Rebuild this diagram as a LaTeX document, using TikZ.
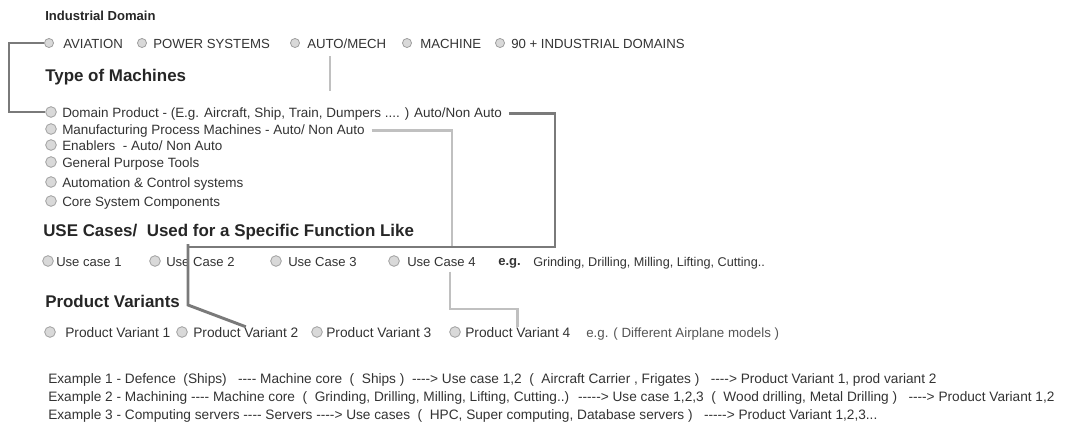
\documentclass[tikz,border=0pt]{standalone}
\usepackage{fontspec}
\setmainfont{Liberation Sans}[Ligatures=TeXOff]
\usetikzlibrary{positioning, calc}
\definecolor{txtgray}{HTML}{333333}
\definecolor{notegray}{HTML}{555555}
\definecolor{linkdark}{HTML}{7A7A7A}
\definecolor{linklight}{HTML}{C0C0C0}
\tikzset{
  radio/.style={circle, draw=gray!75, fill=gray!30, line width=0.6pt, minimum size=8pt, inner sep=0pt},
  smallradio/.style={radio, minimum size=6.8pt},
  opt/.style={anchor=base west, inner sep=0pt, text=txtgray, font=\fontsize{10.1}{12}\selectfont},
  heading/.style={anchor=base west, inner sep=0pt, text=black!85, font=\bfseries\fontsize{12.7}{14}\selectfont},
  example/.style={anchor=base west, inner sep=0pt, text=txtgray, font=\fontsize{10.25}{12}\selectfont},
  darklink/.style={linkdark, line width=2.2pt},
  lightlink/.style={linklight, line width=2.2pt},
}

\begin{document}
\begin{tikzpicture}[x=0.75pt, y=-0.75pt]
\useasboundingbox (0,0) rectangle (1067,426);

% --- Industrial domains ---
\node[opt, font=\bfseries\fontsize{9.8}{11}\selectfont, text=black!85] (hDomain) at (45,20) {Industrial Domain};
\foreach \rx/\tx/\name/\label in {49/63/aviation/{AVIATION}, 142/153/power/{POWER SYSTEMS},
    295/307/auto/{AUTO/MECH}, 407/420/machine/{MACHINE}, 500/511/ninety/{90 + INDUSTRIAL DOMAINS}} {
  \node[smallradio] (r\name) at (\rx,43) {};
  \node[opt, font=\fontsize{9.9}{11}\selectfont] (t\name) at (\tx,48) {\label};
}

% --- Type of machines ---
\node[heading] (hMachines) at (45,81) {Type of Machines};
\foreach \y/\name/\label in {117/domain/{Domain Product - (E.g. Aircraft, Ship, Train, Dumpers .... ) Auto/Non Auto},
    134/manu/{Manufacturing Process Machines - Auto/ Non Auto},
    150/enablers/{Enablers\ \ - Auto/ Non Auto},
    167/general/{General Purpose Tools},
    187/automation/{Automation \& Control systems},
    206/core/{Core System Components}} {
  \node[radio] (r\name) at (51,\y-5) {};
  \node[opt] (t\name) at (62,\y) {\label};
}

% --- Use cases ---
\node[heading] (hUse) at (43,236) {USE Cases/\ \ Used for a Specific Function Like};
\foreach \rx/\tx/\name/\label in {48/56/UCone/{Use case 1}, 155/166/UCtwo/{Use Case 2},
    276/288/UCthree/{Use Case 3}, 394/407/UCfour/{Use Case 4}} {
  \node[radio] (r\name) at (\rx,261) {};
  \node[opt, font=\fontsize{9.8}{11}\selectfont] (t\name) at (\tx,266) {\label};
}
\node[opt, font=\bfseries\fontsize{9.8}{11}\selectfont] (tEg) at (498,265) {e.g.};
\node[opt, font=\fontsize{9.5}{11}\selectfont] (tFunctions) at (533,266) {Grinding, Drilling, Milling, Lifting, Cutting..};

% --- Product variants ---
\node[heading] (hVariants) at (45,307) {Product Variants};
\foreach \rx/\tx/\name/\label in {50/65/PVone/{Product Variant 1}, 182/193/PVtwo/{Product Variant 2},
    317/326/PVthree/{Product Variant 3}, 455/465/PVfour/{Product Variant 4}} {
  \node[radio] (r\name) at (\rx,332) {};
  \node[opt, font=\fontsize{10.3}{12}\selectfont] (t\name) at (\tx,337) {\label};
}
\node[opt, text=notegray, font=\fontsize{10}{12}\selectfont] (tModels) at (586,337) {e.g. (\ Different Airplane models )};

% --- Examples ---
\node[example] (ex1) at (48,383) {Example 1 - Defence \ (Ships)\ \ \ ---- Machine core \ ( \ Ships ) \ ----> Use case 1,2 \ ( \ Aircraft Carrier , Frigates ) \ \ ----> Product Variant 1, prod variant 2};
\node[example] (ex2) at (48,401) {Example 2 - Machining ---- Machine core \ ( \ Grinding, Drilling, Milling, Lifting, Cutting..) \ -----> Use case 1,2,3 \ ( \ Wood drilling, Metal Drilling ) \ \ ----> Product Variant 1,2};
\node[example] (ex3) at (48,419) {Example 3 - Computing servers ---- Servers ----> Use cases \ ( \ HPC, Super computing, Database servers ) \ \ -----> Product Variant 1,2,3...};

% --- Connectors ---
\coordinate (bendA) at (9,43);
\coordinate (autoEnd) at (330,91);
\coordinate (manuDown) at (452,247);
\coordinate (domainDown) at (555,247);
\coordinate (ucTwoTop) at (188,244);
\coordinate (ucTwoLow) at (188,305);
\coordinate (ucFourLow) at (450,309);

\draw[darklink] (raviation.west) -- (bendA) |- (rdomain.west);
\draw[lightlink, shorten <=6pt] (tauto.south -| autoEnd) -- (autoEnd);
\draw[lightlink, shorten <=5pt] (tmanu.east) -| (manuDown);
\draw[darklink, shorten <=5pt] (tdomain.east) -| (domainDown) -- (domainDown -| ucTwoTop);
\draw[darklink] (ucTwoTop) -- (ucTwoLow) -- (tPVtwo.north);
\draw[lightlink, shorten <=4pt] (tUCfour.south -| ucFourLow) -- (ucFourLow) -| (tPVfour.north);

\end{tikzpicture}
\end{document}
